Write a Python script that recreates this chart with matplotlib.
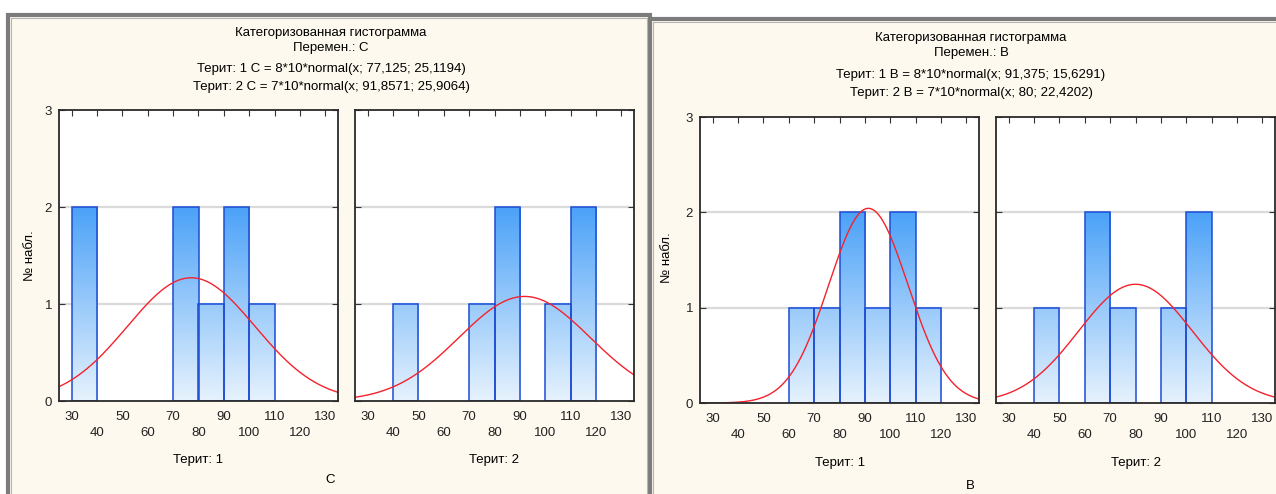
import numpy as np
import matplotlib
matplotlib.use("Agg")
import matplotlib.pyplot as plt
from matplotlib.patches import Rectangle
from matplotlib.colors import LinearSegmentedColormap

plt.rcParams["font.family"] = ["Liberation Sans", "DejaVu Sans"]

# --- dados ---
bin_edges = [30, 40, 50, 60, 70, 80, 90, 100, 110, 120, 130]
# contagens por classe de 10 (30-40, 40-50, ..., 120-130)
c_terit1 = [2, 0, 0, 0, 2, 1, 2, 1, 0, 0]
c_terit2 = [0, 1, 0, 0, 1, 2, 0, 1, 2, 0]
b_terit1 = [0, 0, 0, 1, 1, 2, 1, 2, 1, 0]
b_terit2 = [0, 1, 0, 2, 1, 0, 1, 2, 0, 0]
# parametros das normais ajustadas (n, media, desvio)
c_fit = [(8, 77.125, 25.1194), (7, 91.8571, 25.9064)]
b_fit = [(8, 91.375, 15.6291), (7, 80.0, 22.4202)]
x_ticks = [30, 40, 50, 60, 70, 80, 90, 100, 110, 120, 130]
y_ticks = [0, 1, 2, 3]

W, H = 1276, 494
CREME = "#FEF9EE"
FS = 9.5
cmap = LinearSegmentedColormap.from_list("barra", ["#E6F2FD", "#4CA2F8"])


def px_axes(fig, x0, y0, x1, y1):
    return fig.add_axes([x0 / W, 1 - y1 / H, (x1 - x0) / W, (y1 - y0) / H])


def janela(fig, x0, y0, x1, y1):
    fig.patches.append(Rectangle((x0 / W, 1 - y1 / H), (x1 - x0) / W, (y1 - y0) / H,
                                 transform=fig.transFigure, facecolor=CREME,
                                 edgecolor="#7c7c7c", lw=3.0, zorder=-10))
    fig.patches.append(Rectangle(((x0 + 3) / W, 1 - y1 / H), (x1 - x0 - 6) / W, (y1 - y0 - 3) / H,
                                 transform=fig.transFigure, facecolor="none",
                                 edgecolor="#b4b4b4", lw=0.8, zorder=-9))


def painel(ax, counts, fit, ylabels):
    ax.set_facecolor("white")
    for i, h in enumerate(counts):
        if h == 0:
            continue
        a, b = bin_edges[i], bin_edges[i + 1]
        grad = np.linspace(0, h / 2, 100)[:, None]
        ax.imshow(grad, extent=[a, b, 0, h], origin="lower", cmap=cmap,
                  vmin=0, vmax=1, aspect="auto", zorder=2)
        ax.add_patch(Rectangle((a, 0), b - a, h, facecolor="none",
                               edgecolor="#1D4CD4", lw=1.1, zorder=3))
    n, mu, sd = fit
    xs = np.linspace(25, 135, 300)
    ys = n * 10 * np.exp(-0.5 * ((xs - mu) / sd) ** 2) / (sd * np.sqrt(2 * np.pi))
    ax.plot(xs, ys, color="#F5222D", lw=1.0, zorder=4)
    for g in (1, 2):
        ax.axhline(g, color="#DADADA", lw=1.6, zorder=1)
    ax.set_xlim(25, 135)
    ax.set_ylim(0, 3)
    ax.set_xticks(x_ticks)
    ax.set_xticklabels([str(t) if k % 2 == 0 else "\n" + str(t) for k, t in enumerate(x_ticks)],
                       fontsize=FS, color="#222222", linespacing=1.5)
    ax.set_yticks(y_ticks)
    if ylabels:
        ax.set_yticklabels([str(t) for t in y_ticks], fontsize=FS, color="#222222")
    else:
        ax.set_yticklabels([])
    ax.tick_params(direction="in", top=True, right=True, length=4, width=0.8,
                   color="#333333", pad=5)
    ax.tick_params(axis="x", bottom=False, pad=7)
    for s in ax.spines.values():
        s.set_color("#2a2a2a")
        s.set_linewidth(1.3)
        s.set_zorder(5)


def main():
    fig = plt.figure(figsize=(W / 100, H / 100), dpi=100, facecolor="white")

    janela(fig, 8, 15, 650, 498)
    janela(fig, 650, 19, 1290, 498)

    # janela esquerda: variavel C
    cx = 331
    fig.text(cx / W, 1 - 33 / H, "Категоризованная гистограмма", ha="center", va="center", fontsize=FS)
    fig.text(cx / W, 1 - 48 / H, "Перемен.: C", ha="center", va="center", fontsize=FS)
    fig.text(cx / W, 1 - 69 / H, "Терит: 1 C = 8*10*normal(x; 77,125; 25,1194)",
             ha="center", va="center", fontsize=FS)
    fig.text(cx / W, 1 - 87 / H, "Терит: 2 C = 7*10*normal(x; 91,8571; 25,9064)",
             ha="center", va="center", fontsize=FS)
    ax1 = px_axes(fig, 59, 110, 338, 401)
    painel(ax1, c_terit1, c_fit[0], True)
    ax2 = px_axes(fig, 355, 110, 634, 401)
    painel(ax2, c_terit2, c_fit[1], False)
    fig.text(30 / W, 1 - 256 / H, "№ набл.", rotation=90, ha="center", va="center", fontsize=FS)
    fig.text(198 / W, 1 - 460 / H, "Терит: 1", ha="center", va="center", fontsize=FS)
    fig.text(494 / W, 1 - 460 / H, "Терит: 2", ha="center", va="center", fontsize=FS)
    fig.text(330 / W, 1 - 480 / H, "C", ha="center", va="center", fontsize=FS)

    # janela direita: variavel B
    bx = 971
    fig.text(bx / W, 1 - 38 / H, "Категоризованная гистограмма", ha="center", va="center", fontsize=FS)
    fig.text(bx / W, 1 - 53 / H, "Перемен.: B", ha="center", va="center", fontsize=FS)
    fig.text(bx / W, 1 - 75 / H, "Терит: 1 B = 8*10*normal(x; 91,375; 15,6291)",
             ha="center", va="center", fontsize=FS)
    fig.text(bx / W, 1 - 93 / H, "Терит: 2 B = 7*10*normal(x; 80; 22,4202)",
             ha="center", va="center", fontsize=FS)
    ax3 = px_axes(fig, 700, 117, 979, 403)
    painel(ax3, b_terit1, b_fit[0], True)
    ax4 = px_axes(fig, 996, 117, 1275, 403)
    painel(ax4, b_terit2, b_fit[1], False)
    fig.text(667 / W, 1 - 258 / H, "№ набл.", rotation=90, ha="center", va="center", fontsize=FS)
    fig.text(840 / W, 1 - 463 / H, "Терит: 1", ha="center", va="center", fontsize=FS)
    fig.text(1136 / W, 1 - 463 / H, "Терит: 2", ha="center", va="center", fontsize=FS)
    fig.text(970 / W, 1 - 486 / H, "B", ha="center", va="center", fontsize=FS)

    fig.savefig("out.png", dpi=100, facecolor="white")


if __name__ == "__main__":
    main()
